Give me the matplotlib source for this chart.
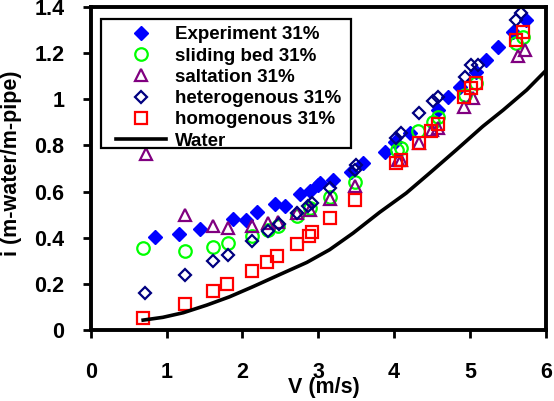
import matplotlib
matplotlib.use('Agg')
import matplotlib.pyplot as plt
from matplotlib.patches import Rectangle

plt.rcParams['font.family'] = ['Liberation Sans', 'DejaVu Sans']
plt.rcParams['font.weight'] = 'bold'

# experiment, 31% concentration
exp_v = [0.844, 1.160, 1.444, 1.869, 2.051, 2.189, 2.427, 2.558, 2.763, 2.888, 2.998, 3.029, 3.195,
         3.438, 3.591, 3.877, 4.009, 4.207, 4.580, 4.712, 4.866, 5.087, 5.218, 5.371, 5.569, 5.746]
exp_i = [0.404, 0.414, 0.438, 0.481, 0.475, 0.511, 0.544, 0.536, 0.590, 0.604, 0.628, 0.638, 0.650,
         0.686, 0.725, 0.773, 0.816, 0.853, 0.954, 1.011, 1.054, 1.119, 1.170, 1.228, 1.293, 1.344]

# model predictions
sb_v = [0.692, 1.240, 1.605, 1.811, 2.132, 2.338, 2.470, 2.713, 2.888, 3.152, 3.481, 4.039, 4.097,
        4.316, 4.514, 4.580, 4.932, 5.086, 5.614, 5.701]
sb_i = [0.355, 0.344, 0.360, 0.378, 0.407, 0.433, 0.451, 0.494, 0.529, 0.575, 0.643, 0.780, 0.788,
        0.860, 0.903, 0.922, 1.019, 1.069, 1.243, 1.271]

sal_v = [0.721, 1.240, 1.605, 1.811, 2.132, 2.338, 2.470, 2.713, 2.888, 3.152, 3.481, 4.052, 4.097,
         4.329, 4.506, 4.580, 4.919, 5.042, 5.635, 5.723]
sal_i = [0.763, 0.498, 0.452, 0.443, 0.452, 0.462, 0.469, 0.506, 0.520, 0.567, 0.624, 0.737, 0.737,
         0.809, 0.867, 0.874, 0.968, 1.004, 1.185, 1.214]

het_v = [0.712, 1.240, 1.605, 1.811, 2.132, 2.338, 2.479, 2.713, 2.866, 2.918, 3.152, 3.481, 3.495,
         4.031, 4.097, 4.329, 4.514, 4.580, 4.932, 5.020, 5.108, 5.614, 5.680]
het_i = [0.162, 0.238, 0.300, 0.325, 0.387, 0.429, 0.458, 0.508, 0.537, 0.552, 0.614, 0.694, 0.715,
         0.831, 0.853, 0.939, 0.990, 1.011, 1.098, 1.149, 1.149, 1.344, 1.375]

hom_v = [0.692, 1.240, 1.605, 1.790, 2.132, 2.330, 2.462, 2.713, 2.879, 2.918, 3.152, 3.481, 4.031,
         4.097, 4.329, 4.493, 4.580, 4.919, 5.020, 5.086, 5.614, 5.701]
hom_i = [0.053, 0.113, 0.169, 0.199, 0.256, 0.296, 0.321, 0.373, 0.407, 0.426, 0.484, 0.564, 0.723,
         0.737, 0.809, 0.863, 0.893, 1.011, 1.048, 1.069, 1.257, 1.293]

# clear water curve
w_v = [0.69, 0.95, 1.22, 1.53, 1.83, 2.14, 2.49, 2.85, 3.15, 3.46, 3.81, 4.16, 4.47, 4.82,
       5.17, 5.44, 5.75, 5.99]
w_i = [0.043, 0.055, 0.075, 0.108, 0.144, 0.188, 0.240, 0.293, 0.348, 0.420, 0.510, 0.593, 0.680,
       0.780, 0.882, 0.953, 1.040, 1.120]

fig = plt.figure(figsize=(5.54, 4.01), dpi=100)
ax = fig.add_axes([0.164, 0.177, 0.821, 0.806])

ax.plot(exp_v, exp_i, 'D', color='#0000ff', ms=7.5, mec='#0000ff', label='Experiment 31%')
ax.plot(sb_v, sb_i, 'o', mfc='none', mec='#00ff00', ms=9, mew=1.6, label='sliding bed 31%')
ax.plot(sal_v, sal_i, '^', mfc='none', mec='#800080', ms=8.5, mew=1.6, label='saltation 31%')
ax.plot(het_v, het_i, 'D', mfc='none', mec='#000080', ms=6.5, mew=1.6, label='heterogenous 31%')
ax.plot(hom_v, hom_i, 's', mfc='none', mec='#ff0000', ms=9, mew=1.6, label='homogenous 31%')
ax.plot(w_v, w_i, '-', color='black', lw=2.6, label='Water')

ax.set_xlim(0, 6)
ax.set_ylim(0, 1.4)
ax.set_xticks(range(0, 7))
ax.set_yticks([0, 0.2, 0.4, 0.6, 0.8, 1, 1.2, 1.4])
ax.set_yticklabels(['0', '0.2', '0.4', '0.6', '0.8', '1', '1.2', '1.4'])
for s in ax.spines.values():
    s.set_linewidth(2.8)
ax.tick_params(axis='x', direction='out', length=6, width=2, pad=17, labelsize=15.5)
ax.tick_params(axis='y', direction='out', length=6, width=2, pad=13, labelsize=15.5)
for t in ax.get_xticklabels() + ax.get_yticklabels():
    t.set_fontweight('bold')

ax.set_xlabel('V (m/s)', fontsize=15.5, fontweight='bold')
ax.set_ylabel('i (m-water/m-pipe)', fontsize=15.5, fontweight='bold')
ax.xaxis.set_label_coords(0.513, -0.145)
ax.yaxis.set_label_coords(-0.152, 0.517)

# legend without its own frame; box drawn separately (wider side padding as in Excel)
leg = ax.legend(loc='upper left', bbox_to_anchor=(0.055, 0.94), borderaxespad=0,
                frameon=False, prop={'weight': 'bold', 'size': 13.5}, handlelength=2.67,
                handletextpad=0.48, labelspacing=0.22, borderpad=0, numpoints=1)
ax.add_patch(Rectangle((0.022, 0.563), 0.549, 0.4, transform=ax.transAxes, fill=True,
                       facecolor='white', edgecolor='black', lw=1.6, zorder=4.5))
leg.set_zorder(5)

fig.savefig('out.png', dpi=100)
